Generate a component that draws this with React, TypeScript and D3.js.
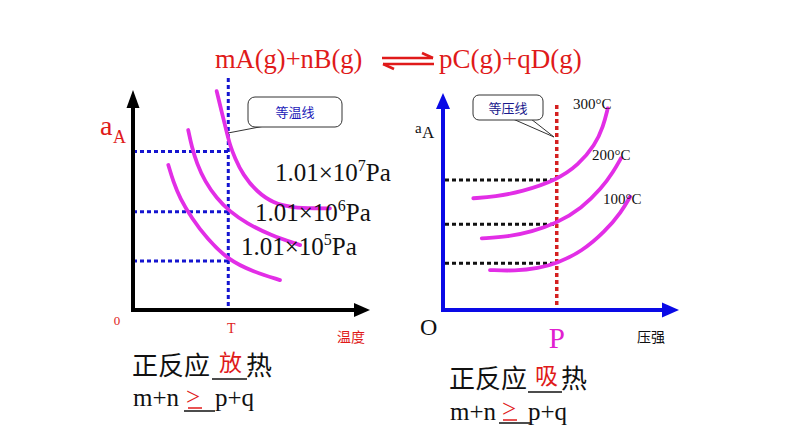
import React from "react";
import * as d3 from "d3";

// ---------- data ----------
// Left chart: conversion of A vs temperature at three pressures, domain 0..100
const leftPressureLabels = ["7", "6", "5"];
const leftCurveTop: [number, number][] = [
  [35.3, 99.5], [37.4, 90.1], [39.5, 81.0], [40.9, 75], [43.0, 69.1], [46.4, 61.4],
  [52.2, 53.8], [59.1, 48.6], [67.5, 46.5], [76.8, 46.2], [83.1, 46.2],
];
const leftCurveMid: [number, number][] = [
  [23.3, 81.8], [24.8, 74.2], [26.9, 66.7], [30.4, 58.3], [35.3, 50.8], [40.9, 44.7],
  [48, 39.4], [57.8, 34.1], [70.5, 29.5],
];
const leftCurveLow: [number, number][] = [
  [14.9, 65.9], [17, 58.3], [19.8, 50.8], [24.8, 41.7], [31.1, 32.6], [40.2, 22.7],
  [50.8, 17.4], [62, 13.6],
];
const leftT = 40.2;
const leftLevels = [72, 44.7, 22.3];

// Right chart: conversion of A vs pressure at three temperatures, domain 0..100
const rightTempLabels = ["300°C", "200°C", "100°C"];
const rightCurve300: [number, number][] = [
  [12.9, 51.5], [22.1, 52.2], [33.5, 54.5], [48.4, 59.9], [57.6, 66.8], [64.7, 76],
  [68.2, 84.5], [70.1, 92.9],
];
const rightCurve200: [number, number][] = [
  [16.5, 33], [27.8, 33.8], [37.7, 36.1], [48.4, 40], [59, 46.9], [67.5, 56.1],
  [72.5, 63.7], [75.7, 69.9],
];
const rightCurve100: [number, number][] = [
  [20, 18.4], [30.6, 18], [40.6, 19.2], [48.4, 21.5], [59, 26.9], [68.9, 36.1],
  [76, 45.3], [79.6, 52.2],
];
const rightP = 48.4;
const rightLevels = [59.9, 39.5, 21.5];

// ---------- styles ----------
const SERIF = "'Liberation Serif', 'Times New Roman', serif";
const CJK = "'Noto Sans CJK SC', sans-serif";
const RED = "#e01a1a";
const MAGENTA = "#e22ee6";
const BLUE = "#0a0ae6";

export default function App() {
  const xL = d3.scaleLinear().domain([0, 100]).range([133, 370]);
  const yL = d3.scaleLinear().domain([0, 100]).range([310, 90]);
  const xR = d3.scaleLinear().domain([0, 100]).range([443, 678]);
  const yR = d3.scaleLinear().domain([0, 100]).range([310, 93]);

  const lineL = d3
    .line<[number, number]>()
    .x((d) => xL(d[0]))
    .y((d) => yL(d[1]))
    .curve(d3.curveBasis);
  const lineR = d3
    .line<[number, number]>()
    .x((d) => xR(d[0]))
    .y((d) => yR(d[1]))
    .curve(d3.curveBasis);

  const leftCurves = [leftCurveTop, leftCurveMid, leftCurveLow];
  const rightCurves = [rightCurve300, rightCurve200, rightCurve100];

  const leftLabelPos = [
    { x: 275, y: 181 },
    { x: 255, y: 221 },
    { x: 241, y: 255 },
  ];
  const rightLabelPos = [
    { x: 573, y: 109 },
    { x: 592, y: 160 },
    { x: 603, y: 204 },
  ];

  return (
    <div style={{ position: "absolute", left: 0, top: 0 }}>
      <svg width={794} height={447} viewBox="0 0 794 447" style={{ display: "block", background: "#fff" }}>
        {/* ---------- header equation ---------- */}
        <text x={215} y={68} fontFamily={SERIF} fontSize={26.5} fill={RED}>
          mA(g)+nB(g)
        </text>
        <text x={439} y={68} fontFamily={SERIF} fontSize={27} fill={RED}>
          pC(g)+qD(g)
        </text>
        <g stroke={RED} strokeWidth={2.5} fill="none">
          <line x1={382} y1={58} x2={433} y2={58} />
          <path d="M433,58 L422,53" />
          <line x1={383} y1={64} x2={434} y2={64} />
          <path d="M383,64 L394,69" />
        </g>

        {/* ---------- left chart ---------- */}
        <g stroke="#1515d0" strokeWidth={3} strokeDasharray="4 3" fill="none">
          <line x1={xL(leftT)} y1={78} x2={xL(leftT)} y2={yL(0)} />
          {leftLevels.map((v, i) => (
            <line key={i} x1={xL(0)} y1={yL(v)} x2={xL(leftT)} y2={yL(v)} />
          ))}
        </g>
        {leftCurves.map((c, i) => (
          <path key={i} d={lineL(c) || ""} fill="none" stroke={MAGENTA} strokeWidth={3.8} strokeLinecap="round" />
        ))}
        <g stroke="#000" strokeWidth={4} fill="none">
          <line x1={xL(0)} y1={yL(0) + 2} x2={xL(0)} y2={104} />
          <line x1={xL(0) - 2} y1={yL(0)} x2={356} y2={yL(0)} />
        </g>
        <path d="M133,90 L126.5,108 L139.5,108 Z" fill="#000" />
        <path d="M370,310 L354,303 L354,317 Z" fill="#000" />
        {leftPressureLabels.map((e, i) => (
          <text key={i} x={leftLabelPos[i].x} y={leftLabelPos[i].y} fontFamily={SERIF} fontSize={25} fill="#111">
            1.01×10
            <tspan fontSize={16} dy={-10}>
              {e}
            </tspan>
            <tspan dy={10}>Pa</tspan>
          </text>
        ))}
        {/* callout 等温线 */}
        <path d="M228,133 L262,126.5 L274,126.5" fill="#fff" stroke="#333" strokeWidth={1} />
        <rect x={248} y={97} width={94} height={30} rx={7} fill="#fff" stroke="#333" strokeWidth={1} />
        <text x={295} y={117} textAnchor="middle" fontFamily={CJK} fontSize={13} fill="#1a1ab8">
          等温线
        </text>
        <text x={100} y={135} fontFamily={SERIF} fontSize={28} fill={RED}>
          a
        </text>
        <text x={113} y={143} fontFamily={SERIF} fontSize={18} fill={RED}>
          A
        </text>
        <text x={117} y={325} textAnchor="middle" fontFamily={SERIF} fontSize={13} fill={RED}>
          0
        </text>
        <text x={xL(leftT) + 3} y={333} textAnchor="middle" fontFamily={SERIF} fontSize={14} fill={RED}>
          T
        </text>
        <text x={337} y={342} fontFamily={CJK} fontSize={14} fill={RED}>
          温度
        </text>

        {/* ---------- right chart ---------- */}
        <g stroke="#111" strokeWidth={3} strokeDasharray="4 3" fill="none">
          {rightLevels.map((v, i) => (
            <line key={i} x1={xR(0) + 2} y1={yR(v)} x2={xR(rightP)} y2={yR(v)} />
          ))}
        </g>
        <line
          x1={xR(rightP)}
          y1={105}
          x2={xR(rightP)}
          y2={yR(0)}
          stroke="#d42020"
          strokeWidth={3.5}
          strokeDasharray="4 3"
        />
        {rightCurves.map((c, i) => (
          <path key={i} d={lineR(c) || ""} fill="none" stroke={MAGENTA} strokeWidth={3.8} strokeLinecap="round" />
        ))}
        <g stroke={BLUE} strokeWidth={4} fill="none">
          <line x1={xR(0)} y1={yR(0) + 2} x2={xR(0)} y2={106} />
          <line x1={xR(0) - 2} y1={yR(0)} x2={664} y2={yR(0)} />
        </g>
        <path d="M443,93 L436,109 L450,109 Z" fill={BLUE} />
        <path d="M679,310 L662,302.5 L662,317.5 Z" fill={BLUE} />
        {rightTempLabels.map((t, i) => (
          <text key={i} x={rightLabelPos[i].x} y={rightLabelPos[i].y} fontFamily={SERIF} fontSize={15} fill="#111">
            {t}
          </text>
        ))}
        {/* callout 等压线 */}
        <path d="M513,119 L554,137 L531,119" fill="#fff" stroke="#333" strokeWidth={1} />
        <rect x={473} y={95} width={70} height={25} rx={6} fill="#fff" stroke="#333" strokeWidth={1} />
        <text x={508} y={113} textAnchor="middle" fontFamily={CJK} fontSize={13} fill="#1a1a8c">
          等压线
        </text>
        <text x={415} y={133} fontFamily={SERIF} fontSize={15} fill="#111">
          a
        </text>
        <text x={422} y={138} fontFamily={SERIF} fontSize={17} fill="#111">
          A
        </text>
        <text x={420} y={335} fontFamily={SERIF} fontSize={24} fill="#111">
          O
        </text>
        <text x={xR(rightP)} y={348} textAnchor="middle" fontFamily={SERIF} fontSize={29} fill="#e020d0">
          P
        </text>
        <text x={637} y={342} fontFamily={CJK} fontSize={14} fill="#111">
          压强
        </text>

        {/* ---------- conclusions ---------- */}
        <text x={132} y={375} fontFamily={CJK} fontSize={26} fill="#111">
          正反应
        </text>
        <line x1={212} y1={379} x2={247} y2={379} stroke="#111" strokeWidth={1.5} />
        <text x={219} y={371} fontFamily={CJK} fontSize={23} fill={RED}>
          放
        </text>
        <text x={246} y={375} fontFamily={CJK} fontSize={26} fill="#111">
          热
        </text>
        <text x={133} y={406} fontFamily={SERIF} fontSize={25} fill="#111">
          m+n
        </text>
        <text x={186} y={405} fontFamily={SERIF} fontSize={25} fill={RED}>
          &gt;
        </text>
        <line x1={184} y1={411} x2={215} y2={411} stroke="#111" strokeWidth={1.5} />
        <line x1={188} y1={408} x2={202} y2={408} stroke={RED} strokeWidth={1.5} />
        <text x={215} y={406} fontFamily={SERIF} fontSize={25} fill="#111">
          p+q
        </text>

        <text x={449} y={388} fontFamily={CJK} fontSize={26} fill="#111">
          正反应
        </text>
        <line x1={528} y1={392} x2={562} y2={392} stroke="#111" strokeWidth={1.5} />
        <text x={535} y={384} fontFamily={CJK} fontSize={23} fill={RED}>
          吸
        </text>
        <text x={561} y={388} fontFamily={CJK} fontSize={26} fill="#111">
          热
        </text>
        <text x={450} y={420} fontFamily={SERIF} fontSize={25} fill="#111">
          m+n
        </text>
        <text x={502} y={417} fontFamily={SERIF} fontSize={25} fill={RED}>
          &gt;
        </text>
        <line x1={499} y1={423} x2={530} y2={423} stroke="#111" strokeWidth={1.5} />
        <line x1={503} y1={420} x2={517} y2={420} stroke={RED} strokeWidth={1.5} />
        <text x={528} y={420} fontFamily={SERIF} fontSize={25} fill="#111">
          p+q
        </text>
      </svg>
    </div>
  );
}
